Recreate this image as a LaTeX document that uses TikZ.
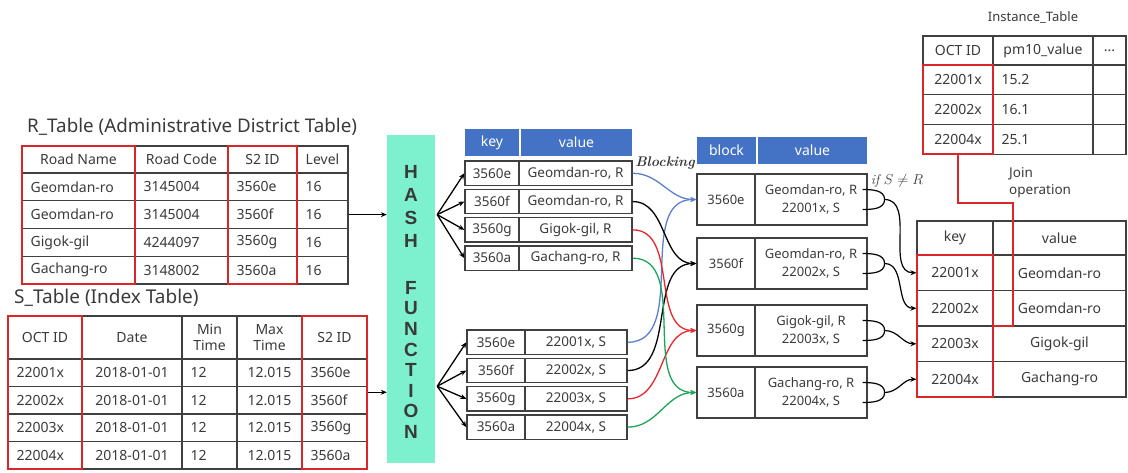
\documentclass[tikz,border=0pt]{standalone}
\usepackage{fontspec}
\newfontfamily\nsans{Noto Sans}
\newfontfamily\hfont{Liberation Sans}
\usetikzlibrary{arrows.meta}
\definecolor{tgray}{HTML}{3A3A3A}
\definecolor{lgray}{HTML}{404040}
\definecolor{hdrblue}{HTML}{4472C4}
\definecolor{hashgreen}{RGB}{125,240,205}
\definecolor{redc}{HTML}{D9262B}
\definecolor{cblue}{HTML}{5B7FCC}
\definecolor{cred}{HTML}{E8262B}
\definecolor{cgreen}{HTML}{1FA35A}
\newcommand\fs[2]{\fontsize{#1}{#2}\selectfont}
\newcommand\tcell[7][]{%
  \pgfmathsetmacro\tcw{(#5)-(#3)}%
  \pgfmathsetmacro\tch{(#6)-(#4)}%
  \pgfmathsetmacro\tcx{((#3)+(#5))/2}%
  \pgfmathsetmacro\tcy{((#4)+(#6))/2}%
  \node[cell,#1,minimum width=\tcw pt,minimum height=\tch pt] (#2) at (\tcx,\tcy) {#7};}
\newcommand\lcell[7][]{%
  \tcell[#1]{#2}{#3}{#4}{#5}{#6}{}%
  \node[txt,anchor=west] (#2-t) at ([xshift=9pt]#2.west) {#7};}
\begin{document}
\begin{tikzpicture}[x=1pt,y=-1pt,
  cell/.style={draw=lgray,line width=1.1pt,inner sep=0pt,align=center,text=tgray,font=\nsans\fs{14}{16.5}},
  kvc/.style={font=\nsans\fs{13.5}{16},line width=1.3pt},
  blc/.style={font=\nsans\fs{13}{17.5},line width=1.2pt},
  hdr/.style={draw=none,fill=hdrblue,text=white,font=\nsans\fs{14}{16}},
  txt/.style={inner sep=0pt,text=tgray,font=\nsans\fs{14}{16.5}},
  redline/.style={draw=redc,line width=1.8pt},
  fan/.style={line width=1.3pt,black,-{Stealth[length=6pt,width=5pt]}},
  flowc/.style={line width=1.3pt,-{Stealth[length=6pt,width=5pt]}},
  ret/.style={line width=1.2pt,black},
]
\useasboundingbox (0,0) rectangle (1128,472);

% ---------- R table ----------
\node[txt,anchor=west,font=\nsans\fs{18.8}{22}] (rtitle) at (27,127) {R\_Table (Administrative District Table)};
\tcell{rh1}{22}{146}{135}{173}{Road Name}
\tcell{rh2}{135}{146}{228}{173}{Road Code}
\tcell{rh3}{228}{146}{297}{173}{S2 ID}
\tcell{rh4}{297}{146}{348}{173}{Level}
\foreach \a/\b/\c [count=\i] in {Geomdan-ro/3145004/3560e,Geomdan-ro/3145004/3560f,Gigok-gil/4244097/3560g,Gachang-ro/3148002/3560a}{
  \pgfmathsetmacro\ya{173+(\i-1)*27.75}
  \pgfmathsetmacro\yb{\ya+27.75}
  \lcell{r\i-1}{22}{\ya}{135}{\yb}{\a}
  \lcell{r\i-2}{135}{\ya}{228}{\yb}{\b}
  \lcell{r\i-3}{228}{\ya}{297}{\yb}{\c}
  \lcell{r\i-4}{297}{\ya}{348}{\yb}{16}
}

% ---------- S table ----------
\node[txt,anchor=west,font=\nsans\fs{19}{22}] (stitle) at (14,298) {S\_Table (Index Table)};
\tcell{sh1}{8}{316}{82}{359}{OCT ID}
\tcell{sh2}{82}{316}{182}{359}{Date}
\tcell{sh3}{182}{316}{237}{359}{Min\\Time}
\tcell{sh4}{237}{316}{302}{359}{Max\\Time}
\tcell{sh5}{302}{316}{367}{359}{S2 ID}
\foreach \a/\c [count=\i] in {22001x/3560e,22002x/3560f,22003x/3560g,22004x/3560a}{
  \pgfmathsetmacro\ya{359+(\i-1)*27.5}
  \pgfmathsetmacro\yb{\ya+27.5}
  \lcell{s\i-1}{8}{\ya}{82}{\yb}{\a}
  \tcell{s\i-2}{82}{\ya}{182}{\yb}{2018-01-01}
  \lcell{s\i-3}{182}{\ya}{237}{\yb}{12}
  \tcell{s\i-4}{237}{\ya}{302}{\yb}{12.015}
  \lcell{s\i-5}{302}{\ya}{367}{\yb}{\c}
}

% ---------- Hash function ----------
\node[fill=hashgreen,inner sep=0pt,minimum width=48pt,minimum height=328pt] (hash) at (411,299) {};
\foreach \l/\yy [count=\k] in {H/172,A/195,S/218,H/241,F/288,U/308.5,N/329,C/349.5,T/370,I/390.5,O/411,N/431.5}
  \node[inner sep=0pt,text=tgray,font=\hfont\bfseries\fs{19}{21}] (hl\k) at (411,\yy) {\l};

% ---------- key/value tables ----------
\tcell[hdr]{kh1}{465}{129}{519}{156}{key}
\tcell[hdr]{kh2}{521}{129}{632}{156}{value}
\tcell[kvc]{krk1}{465}{161}{519}{185.5}{3560e}
\tcell[kvc]{krv1}{519}{161}{632}{185.5}{Geomdan-ro, R}
\tcell[kvc]{krk2}{465}{189.3}{519}{213.8}{3560f}
\tcell[kvc]{krv2}{519}{189.3}{632}{213.8}{Geomdan-ro, R}
\tcell[kvc]{krk3}{465}{217.6}{519}{242.1}{3560g}
\tcell[kvc]{krv3}{519}{217.6}{632}{242.1}{Gigok-gil, R}
\tcell[kvc]{krk4}{465}{245.9}{519}{270.4}{3560a}
\tcell[kvc]{krv4}{519}{245.9}{632}{270.4}{Gachang-ro, R}

\tcell[kvc]{ksk1}{467}{330}{525}{354.5}{3560e}
\tcell[kvc]{ksv1}{525}{330}{627}{354.5}{22001x, S}
\tcell[kvc]{ksk2}{467}{358.3}{525}{382.8}{3560f}
\tcell[kvc]{ksv2}{525}{358.3}{627}{382.8}{22002x, S}
\tcell[kvc]{ksk3}{467}{386.6}{525}{411.1}{3560g}
\tcell[kvc]{ksv3}{525}{386.6}{627}{411.1}{22003x, S}
\tcell[kvc]{ksk4}{467}{414.9}{525}{439.4}{3560a}
\tcell[kvc]{ksv4}{525}{414.9}{627}{439.4}{22004x, S}

% ---------- block tables ----------
\tcell[hdr]{bh1}{697}{137}{756}{164}{block}
\tcell[hdr]{bh2}{758}{137}{867}{164}{value}
\tcell[blc]{bk1}{697}{174}{755}{225}{3560e}
\tcell[blc]{bv1}{755}{174}{867}{225}{Geomdan-ro, R\\22001x, S}
\tcell[blc]{bk2}{697}{238}{755}{289}{3560f}
\tcell[blc]{bv2}{755}{238}{867}{289}{Geomdan-ro, R\\22002x, S}
\tcell[blc]{bk3}{697}{305}{755}{356}{3560g}
\tcell[blc]{bv3}{755}{305}{867}{356}{Gigok-gil, R\\22003x, S}
\tcell[blc]{bk4}{697}{367}{755}{418}{3560a}
\tcell[blc]{bv4}{755}{367}{867}{418}{Gachang-ro, R\\22004x, S}

% ---------- instance table ----------
\node[txt,font=\nsans\fs{13}{15}] (ititle) at (1033,18) {Instance\_Table};
\tcell{ih1}{923}{36}{993}{65}{OCT ID}
\tcell{ih2}{993}{36}{1093}{65}{pm10\_value}
\tcell{ih3}{1093}{36}{1126}{65}{...}
\foreach \a/\b [count=\i] in {22001x/15.2,22002x/16.1,22004x/25.1}{
  \pgfmathsetmacro\ya{65+(\i-1)*29.7}
  \pgfmathsetmacro\yb{\ya+29.7}
  \tcell{i\i-1}{923}{\ya}{993}{\yb}{\a}
  \lcell{i\i-2}{993}{\ya}{1093}{\yb}{\b}
  \tcell{i\i-3}{1093}{\ya}{1126}{\yb}{}
}
\node[txt,anchor=north west,align=left,font=\nsans\fs{13.5}{17}] (joinop) at (1009,167) {Join\\operation};

% ---------- final table ----------
\tcell{fh1}{917}{221}{993}{255}{key}
\tcell{fh2}{993}{221}{1126}{255}{value}
\foreach \a/\b [count=\i] in {22001x/Geomdan-ro,22002x/Geomdan-ro,22003x/Gigok-gil,22004x/Gachang-ro}{
  \pgfmathsetmacro\ya{255+(\i-1)*35.5}
  \pgfmathsetmacro\yb{\ya+35.5}
  \tcell{f\i-1}{917}{\ya}{993}{\yb}{\a}
  \tcell{f\i-2}{993}{\ya}{1126}{\yb}{\b}
}

% ---------- arrows into / out of hash ----------
\draw[fan] (r2-4.east) -- (r2-4.east -| hash.west);
\coordinate (sout) at ([yshift=8pt]s2-5.east);
\draw[fan] (sout) -- (sout -| hash.west);
\coordinate (fanR) at ([xshift=2pt]hash.east |- r2-4.east);
\coordinate (fanS) at ([xshift=2pt,yshift=6pt]hash.east |- sout);
\foreach \i in {1,...,4}{
  \draw[fan] (fanR) -- (krk\i.west);
  \draw[fan] (fanS) -- (ksk\i.west);
}

% ---------- blocking curves ----------
\node[inner sep=0pt,text=tgray,font=\rmfamily\bfseries\itshape\fs{14}{16}] (blk) at (665,163) {Blocking};
\foreach \i/\c in {1/cblue,2/black,3/cred,4/cgreen}{
  \draw[flowc,\c] (krv\i.east) to[out=0,in=180] (bk\i.west);
  \draw[flowc,\c] (ksv\i.east) to[out=0,in=180] (bk\i.west);
}

% ---------- join curves ----------
\node[inner sep=0pt,text=tgray,font=\fs{14}{16}] (ifsr) at (897,181) {$\mathit{if}\ S\neq R$};
\foreach \i in {1,...,4}{
  \coordinate (ra\i) at ([xshift=-5pt,yshift=10pt]bv\i.east);
  \coordinate (rb\i) at ([xshift=-5pt,yshift=-10pt]bv\i.east);
  \coordinate (rj\i) at ([xshift=17pt]bv\i.east);
  \draw[ret] (ra\i) to[out=0,in=90] (rj\i);
  \draw[ret] (rb\i) to[out=0,in=-90] (rj\i);
  \draw[ret,-{Stealth[length=6pt,width=5pt]}] (rj\i) to[out=0,in=180] (f\i-1.west);
}

% ---------- red highlight boxes (drawn last) ----------
\draw[redline] (22,146) -- (135,146) -- (135,284) -- (22,284) -- cycle;
\draw[redline] (228,146) -- (297,146) -- (297,284) -- (228,284) -- cycle;
\draw[redline] (8,316) -- (82,316) -- (82,469) -- (8,469) -- cycle;
\draw[redline] (302,316) -- (367,316) -- (367,469) -- (302,469) -- cycle;
\draw[redline] (923,65) -- (993,65) -- (993,154.1) -- (923,154.1) -- cycle;
\draw[redline] (917,255) -- (993,255) -- (993,397) -- (917,397) -- cycle;
\coordinate (rtop) at (958,154.1);
\coordinate (rbend) at (1013,203);
\coordinate (rend) at (993,326);
\draw[redline] (rtop) |- (rbend) |- (rend);
\end{tikzpicture}
\end{document}
